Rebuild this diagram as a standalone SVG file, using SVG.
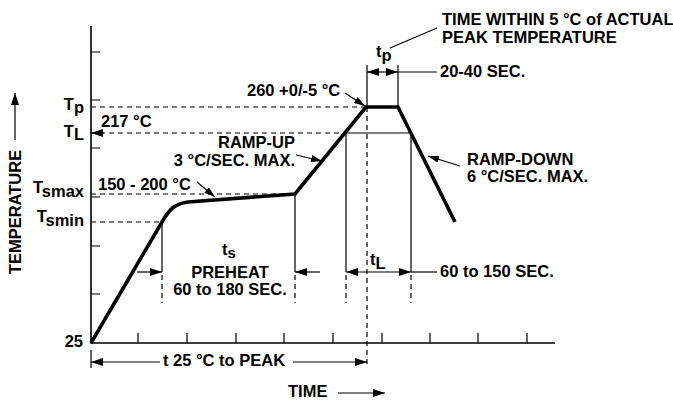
<svg xmlns="http://www.w3.org/2000/svg" width="673" height="403" viewBox="0 0 673 403">
<style>
text{font-family:"Liberation Sans",Arial,sans-serif;font-weight:bold;font-size:16.5px;fill:#000}
.m{text-anchor:middle}.e{text-anchor:end}
.thin{stroke:#000;stroke-width:1.2;fill:none}
.ax{stroke:#000;stroke-width:1.6;fill:none}
.dash{stroke:#000;stroke-width:1.2;stroke-dasharray:5 4;fill:none}
.curve{stroke:#000;stroke-width:3.6;fill:none;stroke-linejoin:miter}
.arr{marker-end:url(#ah)}
.arr2{marker-start:url(#ah);marker-end:url(#ah)}
.lead{marker-end:url(#as)}
</style>
<defs>
<marker id="ah" markerUnits="userSpaceOnUse" markerWidth="12" markerHeight="8" viewBox="0 0 12 8" refX="12" refY="4" orient="auto-start-reverse"><path d="M0,0 L12,4 L0,8 z" fill="#000"/></marker>
<marker id="as" markerUnits="userSpaceOnUse" markerWidth="11" markerHeight="7" viewBox="0 0 11 7" refX="11" refY="3.5" orient="auto"><path d="M0,0 L11,3.5 L0,7 z" fill="#000"/></marker>
</defs>
<rect width="673" height="403" fill="#fff"/>
<g id="axes">
<path class="ax" d="M91,26 V343 H555"/>
<path class="thin" d="M91,52 H100 M91,100 H100 M91,148 H100 M91,197 H100 M91,246 H100 M91,294 H100"/>
<path class="thin" d="M138,333 V343 M187,333 V343 M236,333 V343 M284,333 V343 M333,333 V343 M382,333 V343 M430,333 V343 M478,333 V343 M527,333 V343"/>
<text class="e" x="83" y="347">25</text>
<text class="e" x="84" y="110">T<tspan dy="3">p</tspan></text>
<text class="e" x="84" y="137">T<tspan dy="3">L</tspan></text>
<text class="e" x="84" y="193">T<tspan dy="4">smax</tspan></text>
<text class="e" x="84" y="222">T<tspan dy="4">smin</tspan></text>
<text class="m" transform="translate(21,212) rotate(-90)">TEMPERATURE</text>
<text x="288" y="397">TIME</text>
</g>
<g id="profile">
<path class="curve" d="M91,343 L162,222 C170,208 175,204 188,202 L295,194 L366,107 L398,107 L455,222"/>
</g>
<g id="connectors">
<path class="dash" d="M91,107 H366 M91,133 H346 M91,194 H295 M91,222 H162"/>
<path class="thin" d="M346,133 H411"/>
<path class="thin" d="M367,65 V107 M398,65 V107"/>
<path class="dash" d="M367,107 V368"/>
<path class="thin" d="M346,133 V272 M411,133 V272 M162,222 V272 M295,194 V272"/>
<path class="dash" d="M346,275 V303 M411,275 V303 M162,275 V303 M295,275 V303"/>
<path class="thin" d="M91,350 V368"/>
<line class="thin arr" x1="104" y1="133" x2="91" y2="133"/>
<line class="thin arr2" x1="367" y1="72" x2="398" y2="72"/>
<line class="thin" x1="398" y1="72" x2="437" y2="72"/>
<line class="thin arr2" x1="346" y1="272" x2="411" y2="272"/>
<line class="thin" x1="411" y1="272" x2="437" y2="272"/>
<line class="thin arr" x1="137" y1="272" x2="162" y2="272"/>
<line class="thin arr" x1="320" y1="272" x2="295" y2="272"/>
<line class="thin arr" x1="160" y1="362" x2="91" y2="362"/>
<line class="thin arr" x1="293" y1="362" x2="367" y2="362"/>
<line class="thin lead" x1="345" y1="93" x2="365" y2="106"/>
<line class="thin lead" x1="197" y1="182" x2="215" y2="197"/>
<line class="thin lead" x1="296" y1="155" x2="322" y2="161"/>
<line class="thin lead" x1="460" y1="166" x2="428" y2="156"/>
<line class="thin" x1="390" y1="48" x2="437" y2="28"/>
<line class="thin arr" x1="15" y1="140" x2="15" y2="93"/>
<line class="thin arr" x1="338" y1="393" x2="385" y2="393"/>
</g>
<g id="labels">
<text x="442" y="25">TIME WITHIN 5 °C of ACTUAL</text>
<text x="442" y="43">PEAK TEMPERATURE</text>
<text x="376" y="57">t<tspan dy="4">p</tspan></text>
<text x="440" y="77">20-40 SEC.</text>
<text x="247" y="96">260 +0/-5 °C</text>
<text x="101" y="127">217 °C</text>
<text class="e" x="295" y="148">RAMP-UP</text>
<text class="e" x="295" y="166">3 °C/SEC. MAX.</text>
<text x="467" y="165">RAMP-DOWN</text>
<text x="467" y="182">6 °C/SEC. MAX.</text>
<text x="98" y="190">150 - 200 °C</text>
<text class="m" x="229" y="255">t<tspan dy="3" font-size="15px">s</tspan></text>
<text class="m" x="230" y="278">PREHEAT</text>
<text class="m" x="230" y="295">60 to 180 SEC.</text>
<text x="370" y="265">t<tspan dy="4">L</tspan></text>
<text x="440" y="277">60 to 150 SEC.</text>
<text x="163" y="366">t 25 °C to PEAK</text>
</g>
</svg>
